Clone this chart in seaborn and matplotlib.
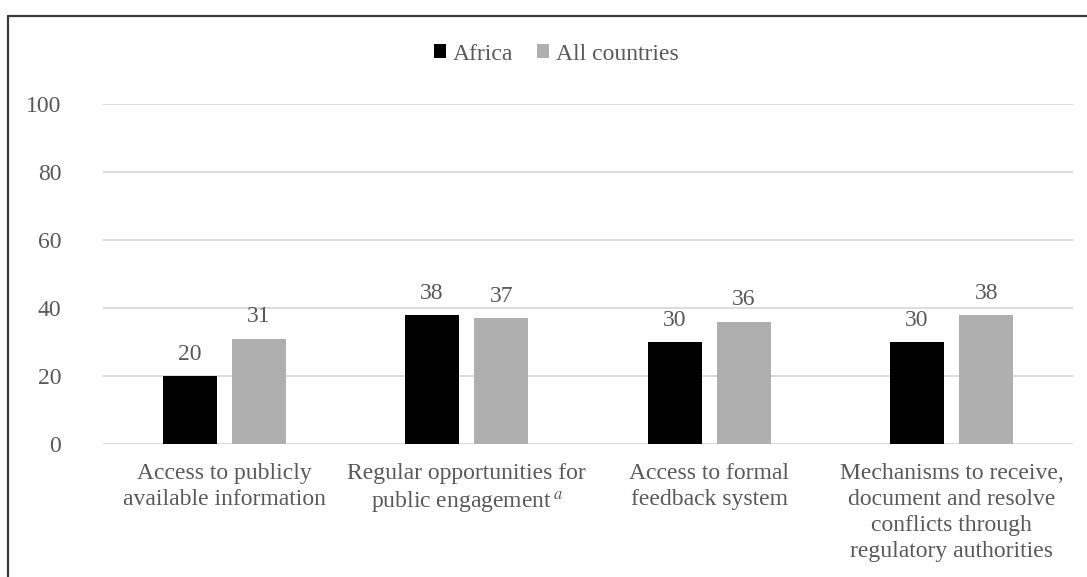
import matplotlib
matplotlib.use("Agg")
import matplotlib.pyplot as plt
from matplotlib.lines import Line2D
import seaborn as sns
import pandas as pd

categories = [
    "Access to publicly\navailable information",
    "Regular opportunities for\npublic engagement$\\,^{\\mathit{a}}$",
    "Access to formal\nfeedback system",
    "Mechanisms to receive,\ndocument and resolve\nconflicts through\nregulatory authorities",
]
series = ["Africa", "All countries"]
africa = [20, 38, 30, 30]
all_countries = [31, 37, 36, 38]
yticks = [0, 20, 40, 60, 80, 100]

colors = ["#000000", "#afafaf"]
text_color = "#595959"
fs = 17

df = pd.DataFrame({
    "category": categories * 2,
    "region": [series[0]] * 4 + [series[1]] * 4,
    "value": africa + all_countries,
})

sns.set_theme(style="white")
plt.rcParams["font.family"] = ["Liberation Serif", "DejaVu Serif"]
plt.rcParams["mathtext.fontset"] = "stix"

fig = plt.figure(figsize=(10.87, 5.77), dpi=100)
ax = fig.add_axes([103 / 1087, 1 - 444 / 577, 970 / 1087, 340 / 577])

sns.barplot(data=df, x="category", y="value", hue="region", hue_order=series,
            palette=colors, width=0.573, gap=0.223, saturation=1,
            edgecolor="none", linewidth=0, ax=ax, legend=True)

for cont in ax.containers:
    ax.bar_label(cont, fmt="%g", padding=8, fontsize=fs, color=text_color)

ax.set_ylim(0, 100)
ax.set_yticks(yticks)
ax.set_xlim(-0.5, 3.5)
ax.yaxis.grid(True, color="#d9d9d9", linewidth=1.3)
ax.set_axisbelow(True)
for s in ax.spines.values():
    s.set_visible(False)
ax.set_xlabel("")
ax.set_ylabel("")
ax.tick_params(axis="y", length=0, pad=30, labelsize=fs, labelcolor=text_color)
ax.tick_params(axis="x", length=0, pad=14, labelsize=fs, labelcolor=text_color)
for lbl in ax.get_yticklabels():
    lbl.set_ha("right")
for lbl in ax.get_xticklabels():
    lbl.set_ha("center")
    lbl.set_multialignment("center")
    lbl.set_linespacing(1.3)

handles, labels = ax.get_legend_handles_labels()
ax.legend_.remove()
fig.legend(handles, labels, loc="center", bbox_to_anchor=(0.512, 1 - 54 / 577),
           ncol=2, frameon=False, fontsize=fs, labelcolor=text_color,
           handlelength=0.5, handleheight=0.5, handletextpad=0.3,
           columnspacing=1.0, borderaxespad=0)

# outer frame of the figure panel
frame_kw = dict(color="#3a3a3a", linewidth=1.6, transform=fig.transFigure)
fig.add_artist(Line2D([8 / 1087, 1.0], [1 - 16 / 577, 1 - 16 / 577], **frame_kw))
fig.add_artist(Line2D([8 / 1087, 8 / 1087], [1 - 16 / 577, 0.0], **frame_kw))

fig.savefig("out.png", dpi=100)
